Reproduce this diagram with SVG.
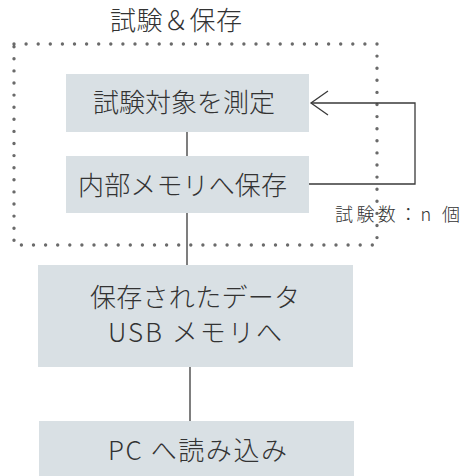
<svg xmlns="http://www.w3.org/2000/svg" width="470" height="476" viewBox="0 0 470 476">
<style>
.box{fill:#d9e0e4}
.t{font-family:"Noto Sans CJK JP","Noto Sans",sans-serif;font-weight:300;fill:#333;text-anchor:start}
.big{font-size:26px}
.ln{stroke:#3a3a3a;stroke-width:1.3;fill:none}
.dot{stroke:#6a6a6a;stroke-width:3.4;stroke-linecap:round;stroke-dasharray:0 12.1;fill:none}
</style>
<text class="t big" x="110" y="30" textLength="132" lengthAdjust="spacing">試験＆保存</text>
<rect class="dot" x="14" y="44" width="363" height="201"/>
<g id="connectors">
<line class="ln" x1="187" y1="132" x2="187" y2="156"/>
<line class="ln" x1="187" y1="213" x2="187" y2="265"/>
<line class="ln" x1="190" y1="367" x2="190" y2="426"/>
<polyline class="ln" points="309,184 415,184 415,103 311,103"/>
<polyline class="ln" points="328,91 311,103 328,115"/>
</g>
<g id="n1"><rect class="box" x="66" y="74" width="243" height="58"/><text class="t big" x="93" y="112" textLength="182" lengthAdjust="spacing">試験対象を測定</text></g>
<g id="n2"><rect class="box" x="66" y="156" width="243" height="57"/><text class="t big" x="78" y="195" textLength="209" lengthAdjust="spacing">内部メモリへ保存</text></g>
<g id="n3"><rect class="box" x="38" y="265" width="315" height="102"/><text class="t big" x="90" y="307" textLength="210" lengthAdjust="spacing">保存されたデータ</text><text class="t big" x="108" y="342" textLength="174" lengthAdjust="spacing">USB メモリへ</text></g>
<g id="n4"><rect class="box" x="39" y="421" width="315" height="55"/><text class="t big" x="108" y="460" textLength="179" lengthAdjust="spacing">PC へ読み込み</text></g>
<text class="t" style="font-size:18px" x="335" y="221" textLength="125" lengthAdjust="spacing">試験数：n 個</text>
</svg>
